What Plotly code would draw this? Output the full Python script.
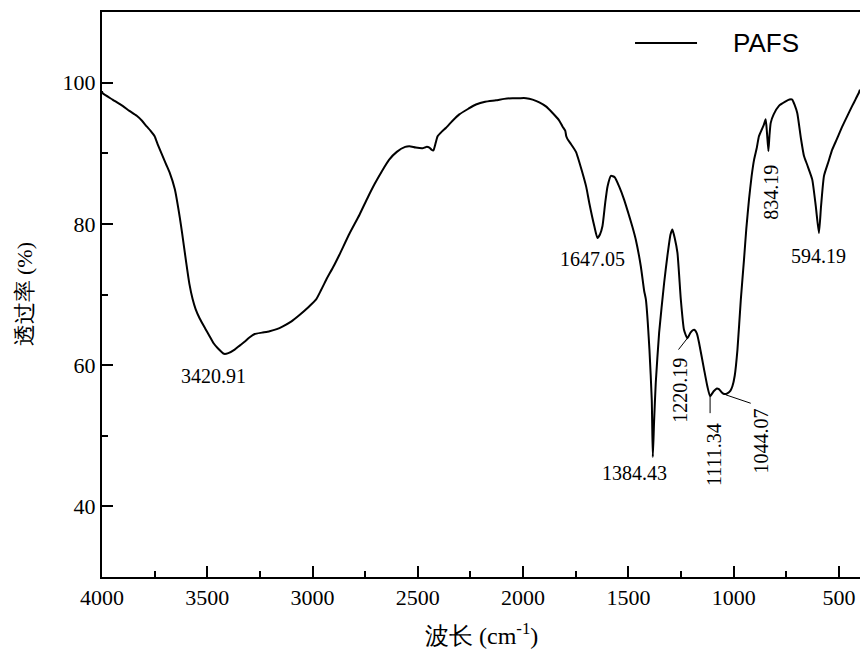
import plotly.graph_objects as go

# FTIR spectrum of PAFS (wavenumber cm-1, transmittance %)
wavenumber = [
    4000, 3997, 3950, 3902, 3870, 3835, 3810, 3788, 3770, 3750, 3736, 3712, 3695, 3679,
    3654, 3631, 3620, 3600, 3585, 3570, 3555, 3536, 3510, 3489, 3470, 3450, 3420, 3400, 3370,
    3345, 3323, 3300, 3275, 3240, 3204, 3170, 3141, 3100, 3062, 3020, 2983, 2960, 2935,
    2900, 2873, 2825, 2777, 2740, 2706, 2670, 2636, 2600, 2560, 2540, 2510, 2478, 2460,
    2445, 2435, 2426, 2415, 2406, 2385, 2366, 2335, 2303, 2260, 2224, 2180, 2129, 2090,
    2050, 2020, 1986, 1955, 1923, 1890, 1860, 1830, 1813, 1800, 1795, 1789, 1775, 1749,
    1718, 1700, 1686, 1662, 1647, 1635, 1623, 1610, 1599, 1583, 1565, 1544, 1520, 1496,
    1480, 1465, 1441, 1425, 1417, 1400, 1389, 1384, 1378, 1370, 1354, 1330, 1315, 1300,
    1291, 1280, 1267, 1251, 1236, 1220, 1205, 1188, 1175, 1164, 1140, 1125, 1112, 1095,
    1080, 1070, 1055, 1044, 1030, 1015, 1006, 995, 982, 966, 951, 940, 927, 915, 903,
    890, 880, 866, 856, 848, 842, 835, 830, 824, 810, 785, 755, 735, 722, 710, 698, 680,
    666, 650, 627, 610, 595, 585, 571, 550, 532, 510, 484, 460, 437, 420, 405, 400,
]
transmittance = [
    98.8, 98.5, 97.6, 96.7, 96.0, 95.3, 94.6, 93.8, 93.2, 92.4, 91.3, 89.6, 88.4, 87.3,
    84.9, 81.0, 78.8, 74.5, 71.5, 69.4, 67.9, 66.6, 65.2, 64.1, 63.1, 62.4, 61.6, 61.7, 62.2,
    62.8, 63.3, 63.9, 64.4, 64.6, 64.8, 65.1, 65.5, 66.2, 67.1, 68.2, 69.3, 70.6, 72.1,
    74.0, 75.6, 78.6, 81.3, 83.6, 85.6, 87.5, 89.1, 90.2, 90.9, 91.0, 90.8, 90.7, 90.9,
    90.8, 90.5, 90.4, 91.5, 92.4, 93.1, 93.6, 94.6, 95.5, 96.3, 96.9, 97.3, 97.5, 97.7,
    97.8, 97.8, 97.8, 97.6, 97.2, 96.6, 95.7, 94.7, 93.8, 93.2, 92.4, 92.0, 91.4, 90.2,
    87.2, 85.2, 83.0, 79.7, 78.0, 78.5, 79.7, 83.0, 85.3, 86.8, 86.6, 85.3, 83.4, 81.1,
    79.5, 77.8, 74.0, 70.5, 69.3, 62.2, 55.1, 47.0, 52.0, 57.5, 64.6, 71.7, 75.4, 78.5,
    79.2, 78.0, 75.9, 69.3, 65.0, 63.8, 64.6, 65.0, 64.5, 63.1, 59.3, 57.0, 55.6, 56.3,
    56.7, 56.6, 56.1, 55.9, 56.0, 56.4, 57.0, 58.5, 62.2, 69.3, 74.9, 79.3, 83.5, 86.7, 89.1,
    90.8, 92.4, 93.4, 94.1, 94.8, 93.0, 90.3, 92.5, 94.3, 95.5, 96.7, 97.3, 97.6, 97.6, 96.8, 95.7, 92.0,
    89.6, 88.3, 86.3, 82.5, 78.7, 82.5, 86.8, 88.8, 90.5, 92.0, 93.8, 95.3, 96.7, 97.7, 98.6, 99.0,
]

series_name = "PAFS"
x_ticks = [4000, 3500, 3000, 2500, 2000, 1500, 1000, 500]
x_minor = [3750, 3250, 2750, 2250, 1750, 1250, 750]
y_ticks = [40, 60, 80, 100]
y_minor = [50, 70, 90]

# peak labels: text, x, y, angle
peak_text = ["3420.91", "1647.05", "594.19", "834.19", "1384.43", "1220.19", "1111.34", "1044.07"]
peak_x = [3472, 1669.5, 597, 824, 1469, 1259, 1093, 871]
peak_y = [58.5, 75.0, 75.5, 84.5, 44.7, 56.4, 47.3, 49.3]
peak_angle = [0, 0, 0, -90, 0, -90, -90, -90]

# leader lines (x0, y0, x1, y1)
leaders = [
    (1262, 62.2, 1220, 63.8),
    (1112, 55.5, 1112, 53.2),
    (1038, 55.8, 919, 54.6),
]

SERIF = "Liberation Serif"
SANS = "Liberation Sans"

fig = go.Figure()
fig.add_trace(go.Scatter(
    x=wavenumber, y=transmittance, mode="lines", name=series_name,
    line=dict(color="black", width=2, shape="spline", smoothing=0.5), showlegend=False,
))

for t, x, y, a in zip(peak_text, peak_x, peak_y, peak_angle):
    fig.add_annotation(x=x, y=y, xref="x", yref="y", text=t, textangle=a,
                       xanchor="center", yanchor="middle",
                       showarrow=False, font=dict(family=SERIF, size=20, color="black"))

for x0, y0, x1, y1 in leaders:
    fig.add_shape(type="line", xref="x", yref="y", x0=x0, y0=y0, x1=x1, y1=y1,
                  line=dict(color="black", width=1))

# legend
fig.add_shape(type="line", xref="paper", yref="paper", x0=0.7032, x1=0.785, y0=0.9451, y1=0.9451,
              line=dict(color="black", width=2))
fig.add_annotation(xref="paper", yref="paper", x=0.876, y=0.9451, text=series_name, showarrow=False,
                   xanchor="center", yanchor="middle",
                   font=dict(family=SANS, size=26, color="black"))

# axis titles
fig.add_annotation(xref="paper", yref="paper", x=0.5, y=-0.101, text="波长 (cm<sup>-1</sup>)",
                   showarrow=False, xanchor="center", yanchor="middle",
                   font=dict(family=SERIF, size=24, color="black"))
fig.add_annotation(xref="paper", yref="paper", x=-0.1016, y=0.5, text="透过率 (%)", textangle=-90,
                   showarrow=False, xanchor="center", yanchor="middle",
                   font=dict(family=SERIF, size=22, color="black"))

fig.update_layout(
    width=860, height=658,
    margin=dict(l=102, r=0, t=12, b=81),
    paper_bgcolor="white", plot_bgcolor="white",
    font=dict(family=SERIF, size=22, color="black"),
    xaxis=dict(
        range=[4000, 400], tickmode="array", tickvals=x_ticks,
        ticks="inside", ticklen=11, tickwidth=2, tickcolor="black",
        showline=True, linecolor="black", linewidth=2, mirror=True,
        showgrid=False, zeroline=False,
        tickfont=dict(family=SERIF, size=22, color="black"),
        minor=dict(tickvals=x_minor, ticks="inside", ticklen=6, tickwidth=2, tickcolor="black"),
    ),
    yaxis=dict(
        range=[30, 110], tickmode="array", tickvals=y_ticks,
        ticks="inside", ticklen=11, tickwidth=2, tickcolor="black",
        showline=True, linecolor="black", linewidth=2, mirror=False,
        showgrid=False, zeroline=False,
        tickfont=dict(family=SERIF, size=22, color="black"),
        minor=dict(tickvals=y_minor, ticks="inside", ticklen=6, tickwidth=2, tickcolor="black"),
    ),
)

fig.write_html("out.html")
